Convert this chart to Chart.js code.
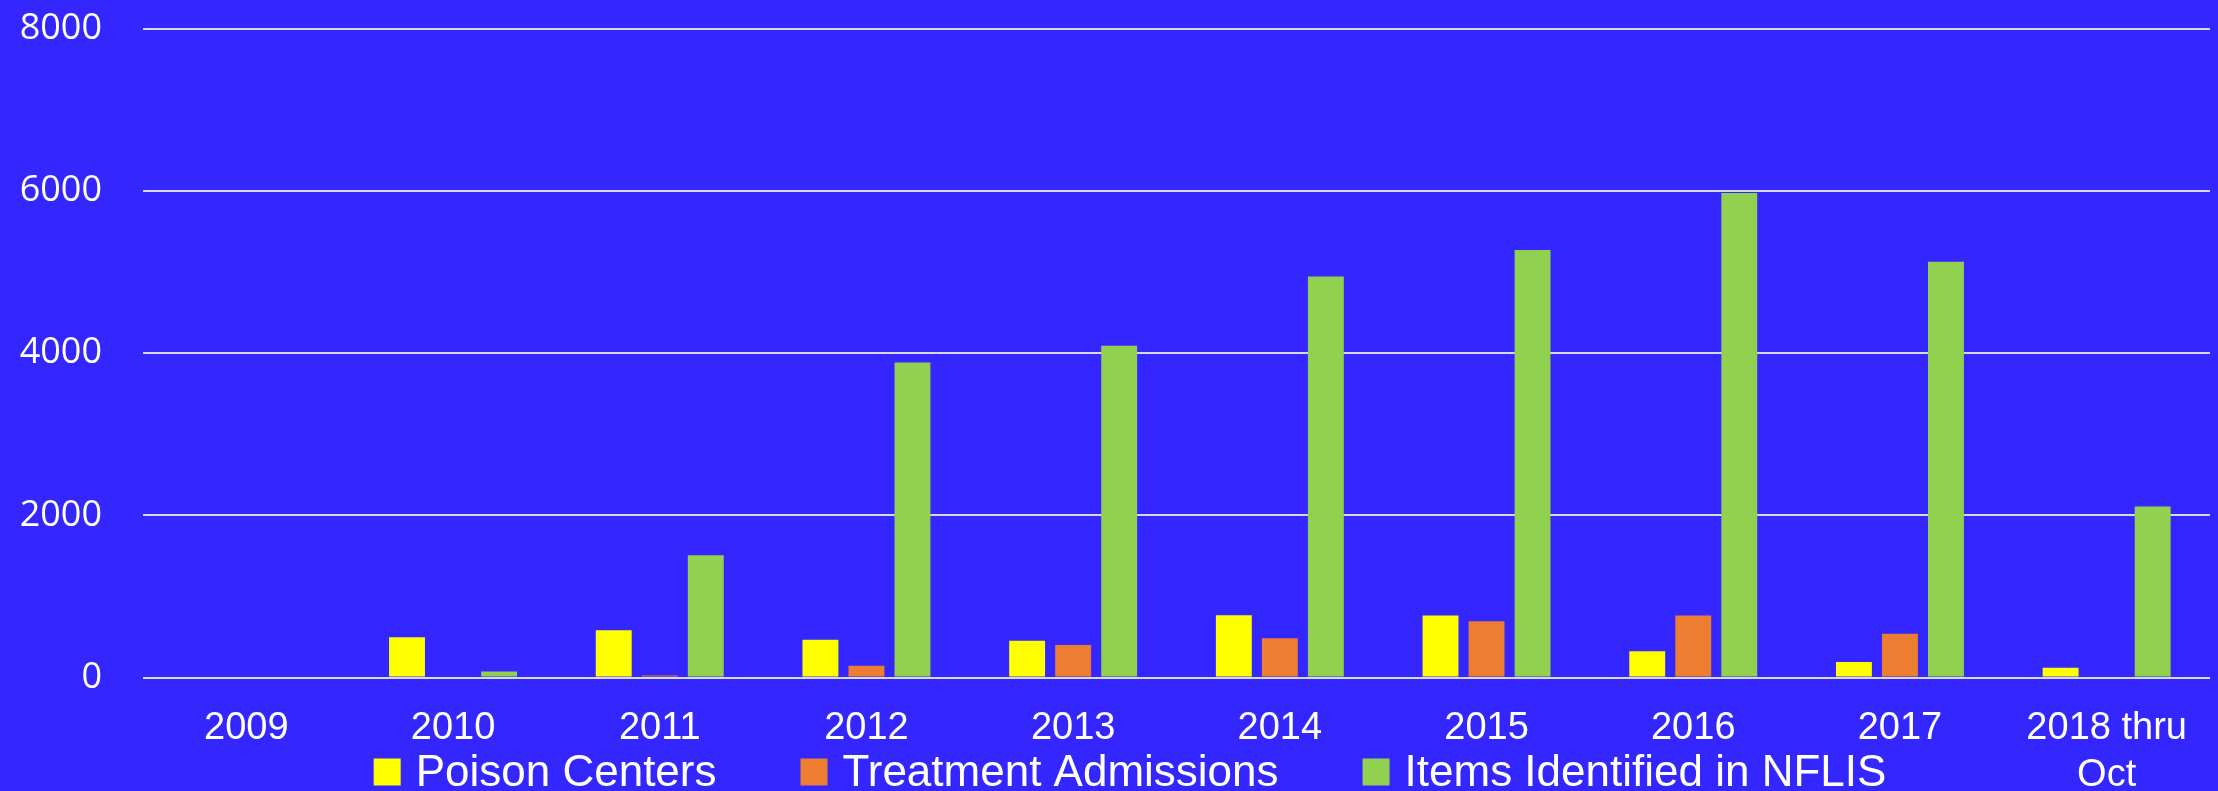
<!DOCTYPE html>
<html>
<head>
<meta charset="utf-8">
<script src="https://cdn.jsdelivr.net/npm/chart.js@4/dist/chart.umd.min.js"></script>
<style>
  html, body { margin: 0; padding: 0; background: #3326ff; }
  #wrap { width: 2218px; height: 791px; position: relative; }
</style>
</head>
<body>
<div id="wrap"><canvas id="chart"></canvas></div>
<script>
const years = ['2009', '2010', '2011', '2012', '2013', '2014', '2015', '2016', '2017', ['2018 thru', 'Oct']];
const poisonCenters = [0, 496, 582, 464, 452, 768, 763, 325, 190, 119];
const treatmentAdmissions = [0, 0, 25, 144, 402, 485, 694, 763, 538, 0];
const nflisItems = [0, 74, 1508, 3884, 4090, 4944, 5270, 5972, 5126, 2107];
const yTicks = [0, 2000, 4000, 6000, 8000];

const seriesNames = ['Poison Centers', 'Treatment Admissions', 'Items Identified in NFLIS'];
const seriesColors = ['#ffff00', '#ed7d31', '#92d050'];

const narrowFont = '"Liberation Sans Narrow", "Liberation Sans", Arial, sans-serif';

// paint the blue background and the legend under the axis labels
const backdrop = {
  id: 'backdrop',
  beforeDraw(chart) {
    const ctx = chart.ctx;
    ctx.save();
    ctx.fillStyle = '#3326ff';
    ctx.fillRect(0, 0, chart.width, chart.height);
    ctx.restore();
  },
  afterDraw(chart) {
    const ctx = chart.ctx;
    const box = 27, gapText = 15, gapItem = 84, midY = 772;
    ctx.save();
    ctx.font = '44px ' + narrowFont;
    ctx.textBaseline = 'middle';
    const items = chart.data.datasets.map(ds => ({
      label: ds.label, color: ds.backgroundColor, w: ctx.measureText(ds.label).width
    }));
    const total = items.reduce((s, it) => s + box + gapText + it.w, 0) + gapItem * (items.length - 1);
    let x = 1130 - total / 2;
    items.forEach(it => {
      ctx.fillStyle = it.color;
      ctx.fillRect(x, midY - box / 2, box, box);
      x += box + gapText;
      ctx.fillStyle = '#ffffff';
      ctx.fillText(it.label, x, midY + 2);
      x += it.w + gapItem;
    });
    ctx.restore();
  }
};

const values = [poisonCenters, treatmentAdmissions, nflisItems];

new Chart(document.getElementById('chart'), {
  type: 'bar',
  data: {
    labels: years,
    datasets: seriesNames.map((name, i) => ({
      label: name,
      data: values[i],
      backgroundColor: seriesColors[i],
      categoryPercentage: 0.668,
      barPercentage: 0.78
    }))
  },
  options: {
    responsive: true,
    maintainAspectRatio: false,
    animation: false,
    layout: { padding: { top: 28.5, right: 8 } },
    plugins: {
      legend: { display: false },
      tooltip: { enabled: false }
    },
    scales: {
      x: {
        grid: { display: false },
        border: { display: false },
        ticks: {
          color: '#ffffff',
          padding: 20,
          maxRotation: 0,
          autoSkip: false,
          font: { family: narrowFont, size: 38, lineHeight: 1.22 }
        },
        afterFit(scale) { scale.height = 113.5; }
      },
      y: {
        min: 0,
        max: 8000,
        afterBuildTicks(scale) { scale.ticks = yTicks.map(v => ({ value: v })); },
        grid: { color: '#d9d9d9', lineWidth: 2, drawTicks: false },
        border: { display: false },
        ticks: {
          color: '#ffffff',
          padding: 41,
          callback: v => String(v),
          font: { family: '"Open Sans", sans-serif', size: 36 }
        },
        afterFit(scale) {
          scale.width = 143;
          scale.paddingTop = 0;
          scale.paddingBottom = 0;
        }
      }
    }
  },
  plugins: [backdrop]
});
</script>
</body>
</html>
